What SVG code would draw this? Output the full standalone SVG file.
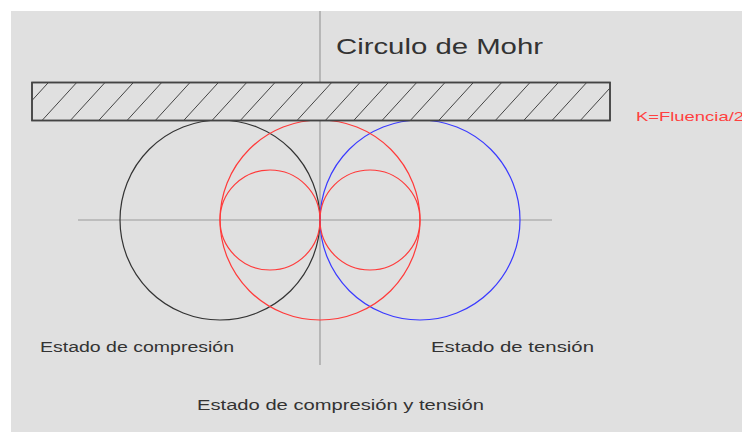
<svg xmlns="http://www.w3.org/2000/svg" width="742" height="432" viewBox="0 0 742 432">
  <style>
    .axis { stroke: #9a9a9a; stroke-width: 1.2; fill: none; }
    .hatch { stroke: #444; stroke-width: 1; fill: none; }
    .circ { fill: none; stroke-width: 1.2; }
    .lbl { font-family: "Liberation Sans", Arial, sans-serif; font-size: 14px; fill: #333333; }
  </style>
  <defs>
    <clipPath id="rc"><rect x="32" y="82.5" width="578" height="38"/></clipPath>
  </defs>
  <rect x="0" y="0" width="742" height="432" fill="#ffffff"/>
  <rect x="11" y="11" width="731" height="421" fill="#e0e0e0"/>

  <g id="axes">
    <line class="axis" x1="320" y1="11" x2="320" y2="365"/>
    <line class="axis" x1="78" y1="220" x2="552" y2="220"/>
  </g>

  <g id="circles">
    <circle class="circ" cx="220" cy="220" r="100" stroke="#333333"/>
    <circle class="circ" cx="420" cy="220" r="100" stroke="#3a3aff"/>
    <circle class="circ" cx="320" cy="220" r="100" stroke="#ff3a3a"/>
    <circle class="circ" cx="270" cy="220" r="50" stroke="#ff3a3a"/>
    <circle class="circ" cx="370" cy="220" r="50" stroke="#ff3a3a"/>
  </g>

  <g id="support">
    <rect x="32" y="82.5" width="578" height="38" fill="#e0e0e0" stroke="#444" stroke-width="1.5"/>
    <path class="hatch" clip-path="url(#rc)" d="M13.7 120.5L48.4 82.5 M42 120.5L76.7 82.5 M70.3 120.5L105 82.5 M98.7 120.5L133.4 82.5 M127 120.5L161.7 82.5 M155.3 120.5L190 82.5 M183.7 120.5L218.4 82.5 M212 120.5L246.7 82.5 M240.3 120.5L275 82.5 M268.7 120.5L303.4 82.5 M297 120.5L331.7 82.5 M325.3 120.5L360 82.5 M353.7 120.5L388.4 82.5 M382 120.5L416.7 82.5 M410.3 120.5L445 82.5 M438.7 120.5L473.4 82.5 M467 120.5L501.7 82.5 M495.3 120.5L530 82.5 M523.7 120.5L558.4 82.5 M552 120.5L586.7 82.5 M580.3 120.5L615 82.5"/>
    <rect x="32" y="82.5" width="578" height="38" fill="none" stroke="#444" stroke-width="1.5"/>
  </g>

  <g id="labels">
    <text class="lbl" x="336" y="54" style="font-size:22px" textLength="207" lengthAdjust="spacingAndGlyphs">Circulo de Mohr</text>
    <text class="lbl" x="636" y="121" style="fill:#ff4040;font-size:13px" textLength="108" lengthAdjust="spacingAndGlyphs">K=Fluencia/2</text>
    <text class="lbl" x="40" y="352" textLength="194" lengthAdjust="spacingAndGlyphs">Estado de compresión</text>
    <text class="lbl" x="431" y="352" textLength="163" lengthAdjust="spacingAndGlyphs">Estado de tensión</text>
    <text class="lbl" x="197" y="410" textLength="287" lengthAdjust="spacingAndGlyphs">Estado de compresión y tensión</text>
  </g>
</svg>
